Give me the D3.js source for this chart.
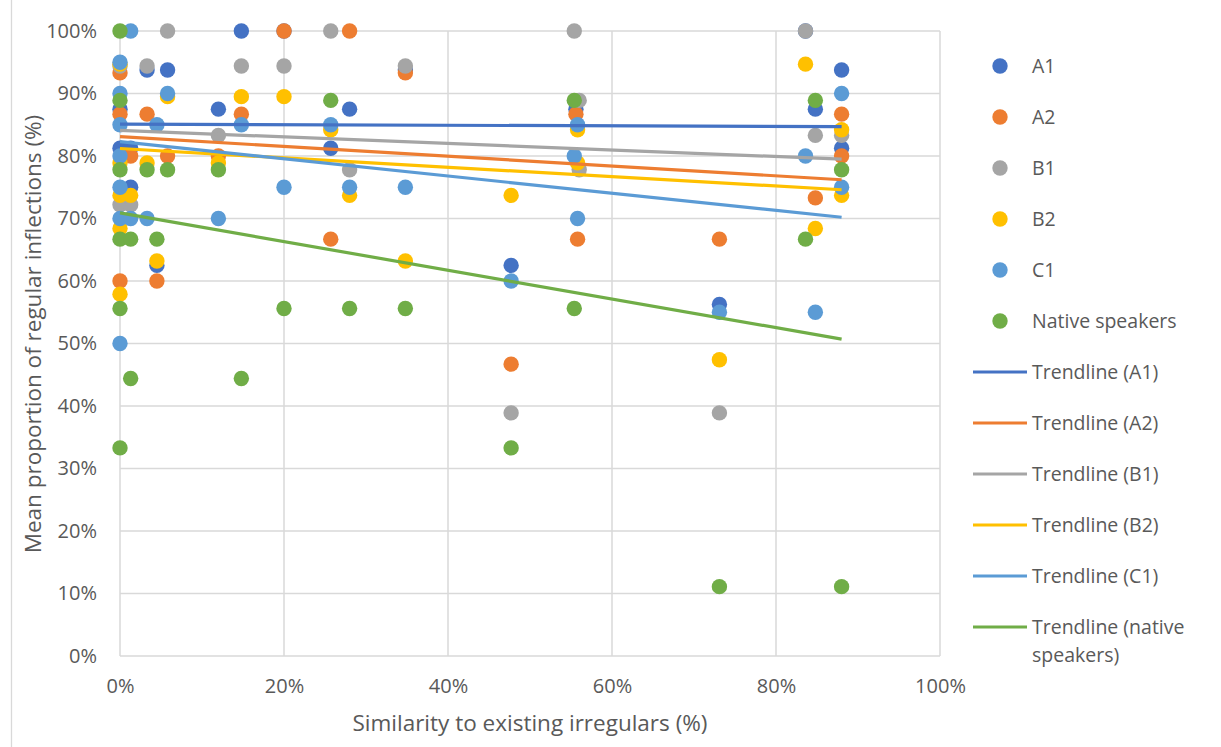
<!DOCTYPE html>
<html>
<head>
<meta charset="utf-8">
<script src="https://cdn.jsdelivr.net/npm/d3@7"></script>
<style>
  body { margin: 0; background: #fff; }
  svg { display: block; }
  text { font-family: "Open Sans", "Liberation Sans", sans-serif; fill: #595959; }
</style>
</head>
<body>
<svg id="chart" width="1221" height="747"></svg>
<script>
// Similarity to existing irregulars (%) vs. mean proportion of regular inflections (%)
const seriesNames = ["A1", "A2", "B1", "B2", "C1", "Native speakers"];
const trendNames = ["Trendline (A1)", "Trendline (A2)", "Trendline (B1)", "Trendline (B2)", "Trendline (C1)", "Trendline (native speakers)"];

const a1 = [[0,87.5],[0,81.25],[1.3,81.25],[1.3,75],[3.3,93.75],[4.5,62.5],[5.8,93.75],[12,87.5],[14.8,100],[20,100],[25.7,81.25],[28,87.5],[34.8,93.75],[47.7,62.5],[55.6,87.5],[73.1,56.25],[83.6,100],[84.8,87.5],[88,93.75],[88,81.25]];
const a2 = [[0,93.3],[0,86.7],[0,60],[1.3,80],[3.3,86.7],[4.5,60],[5.8,80],[12,80],[14.8,86.7],[20,100],[25.7,66.7],[28,100],[34.8,93.3],[47.7,46.7],[55.6,86.7],[55.8,66.7],[73.1,66.7],[84.8,73.3],[88,86.7],[88,80]];
const b1 = [[0,94.4],[0,72.2],[1.3,72.2],[3.3,94.4],[5.8,100],[12,83.3],[14.8,94.4],[20,94.4],[25.7,100],[28,77.8],[34.8,94.4],[47.7,38.9],[55.4,100],[56,88.9],[56,77.8],[73.1,38.9],[83.6,100],[84.8,83.3],[88,83.3]];
const b2 = [[0,94.7],[0,78.9],[0,73.7],[0,68.4],[0,57.9],[1.3,73.7],[3.3,78.9],[4.5,63.2],[5.8,89.5],[12,78.9],[14.8,89.5],[20,89.5],[25.7,84.2],[28,73.7],[34.8,63.2],[47.7,73.7],[55.8,84.2],[55.8,78.9],[73.1,47.4],[83.6,94.7],[84.8,68.4],[88,84.2],[88,73.7]];
const c1 = [[0,95],[0,90],[0,85],[0,80],[0,75],[0,70],[0,50],[1.3,100],[1.3,70],[3.3,70],[4.5,85],[5.8,90],[12,70],[14.8,85],[20,75],[25.7,85],[28,75],[34.8,75],[47.7,60],[55.4,80],[55.8,85],[55.8,70],[73.1,55],[83.6,80],[84.8,55],[88,90],[88,75]];
const native = [[0,100],[0,88.9],[0,77.8],[0,66.7],[0,55.6],[0,33.3],[1.3,66.7],[1.3,44.4],[3.3,77.8],[4.5,66.7],[5.8,77.8],[12,77.8],[14.8,44.4],[20,55.6],[25.7,88.9],[28,55.6],[34.8,55.6],[47.7,33.3],[55.4,88.9],[55.4,55.6],[73.1,11.1],[83.6,66.7],[84.8,88.9],[88,77.8],[88,11.1]];

// linear trendline values (%) at the smallest and the largest similarity of each series
const trendStart = [85.1, 83.1, 84.1, 81.2, 82.3, 70.9];
const trendEnd = [84.7, 76.2, 79.5, 74.6, 70.2, 50.7];

const xTicks = [0, 20, 40, 60, 80, 100];
const yTicks = [0, 10, 20, 30, 40, 50, 60, 70, 80, 90, 100];

const allSeries = [a1, a2, b1, b2, c1, native];
const colors = ["#4472C4", "#ED7D31", "#A5A5A5", "#FFC000", "#5B9BD5", "#70AD47"];

const svg = d3.select("#chart");
const plot = { left: 120, right: 940, top: 31, bottom: 656 };

const x = d3.scaleLinear().domain([0, 100]).range([plot.left, plot.right]);
const y = d3.scaleLinear().domain([0, 100]).range([plot.bottom, plot.top]);

// chart frame edge
svg.append("line")
  .attr("x1", 11.5).attr("x2", 11.5).attr("y1", 0).attr("y2", 747)
  .attr("stroke", "#d9d9d9").attr("stroke-width", 1.3);

// gridlines
const grid = svg.append("g");
grid.selectAll("line.h").data(yTicks).join("line")
  .attr("x1", plot.left).attr("x2", plot.right)
  .attr("y1", d => y(d)).attr("y2", d => y(d))
  .attr("stroke", "#d9d9d9").attr("stroke-width", 1.5);
grid.selectAll("line.v").data(xTicks).join("line")
  .attr("y1", plot.top).attr("y2", plot.bottom)
  .attr("x1", d => x(d)).attr("x2", d => x(d))
  .attr("stroke", "#d9d9d9").attr("stroke-width", 1.5);

// axes (labels only, lines are the grid)
const yAxis = svg.append("g")
  .attr("transform", `translate(${plot.left},0)`)
  .call(d3.axisLeft(y).tickValues(yTicks).tickSize(0).tickPadding(23).tickFormat(d => d + "%"));
const xAxis = svg.append("g")
  .attr("transform", `translate(0,${plot.bottom})`)
  .call(d3.axisBottom(x).tickValues(xTicks).tickSize(0).tickPadding(23).tickFormat(d => d + "%"));
[yAxis, xAxis].forEach(a => {
  a.select(".domain").remove();
  a.selectAll("text").attr("font-size", 20).attr("fill", "#595959")
    .style("font-family", '"Open Sans", sans-serif');
});

// axis titles
svg.append("text")
  .attr("x", 530).attr("y", 731)
  .attr("text-anchor", "middle").attr("font-size", 22.5)
  .text("Similarity to existing irregulars (%)");
svg.append("text")
  .attr("transform", `translate(41,334) rotate(-90)`)
  .attr("text-anchor", "middle").attr("font-size", 22.5)
  .text("Mean proportion of regular inflections (%)");

// scatter points
allSeries.forEach((pts, i) => {
  svg.append("g").selectAll("circle").data(pts).join("circle")
    .attr("cx", d => x(d[0])).attr("cy", d => y(d[1]))
    .attr("r", 7.7).attr("fill", colors[i]);
});

// linear trendlines, drawn over the points
const line = d3.line().x(d => x(d[0])).y(d => y(d[1]));
allSeries.forEach((pts, i) => {
  const [x0, x1] = d3.extent(pts, d => d[0]);
  svg.append("path").attr("d", line([[x0, trendStart[i]], [x1, trendEnd[i]]]))
    .attr("fill", "none").attr("stroke", colors[i]).attr("stroke-width", 3.2);
});

// legend
const legend = svg.append("g");
const legendX = 1000, legendTextX = 1032, legendTop = 66, legendStep = 51;
seriesNames.forEach((name, i) => {
  const cy = legendTop + i * legendStep;
  legend.append("circle").attr("cx", legendX).attr("cy", cy).attr("r", 7.7).attr("fill", colors[i]);
  legend.append("text").attr("x", legendTextX).attr("y", cy).attr("dy", "0.35em")
    .attr("font-size", 19.5).text(name);
});
trendNames.forEach((name, i) => {
  const cy = legendTop + (i + 6) * legendStep;
  legend.append("line").attr("x1", legendX - 27).attr("x2", legendX + 27)
    .attr("y1", cy).attr("y2", cy).attr("stroke", colors[i]).attr("stroke-width", 3.2);
  const t = legend.append("text").attr("x", legendTextX).attr("y", cy).attr("dy", "0.35em").attr("font-size", 19.5);
  if (name === "Trendline (native speakers)") {
    t.append("tspan").attr("x", legendTextX).text("Trendline (native");
    t.append("tspan").attr("x", legendTextX).attr("dy", "1.45em").text("speakers)");
  } else {
    t.text(name);
  }
});
</script>
</body>
</html>
